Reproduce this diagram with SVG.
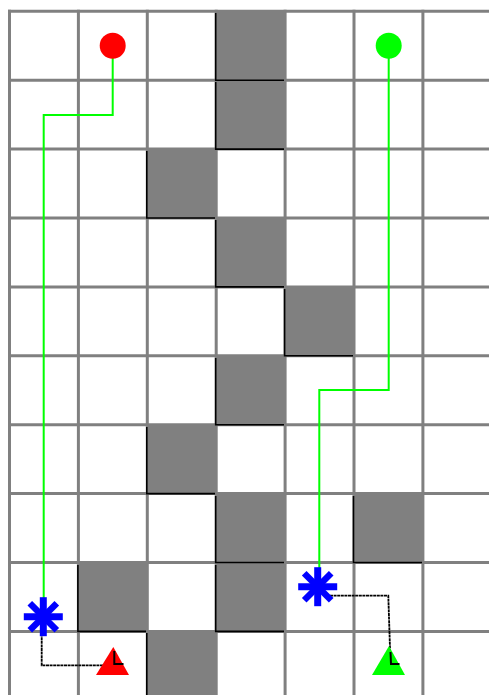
<svg xmlns="http://www.w3.org/2000/svg" width="489" height="695" viewBox="0 0 489 695">
<style>
.cell{fill:#808080}
.grid line{stroke:#808080;stroke-width:3}
.edge{fill:none;stroke:#000;stroke-width:1.6}
.plan{fill:none;stroke:#00ff00;stroke-width:2}
.track{fill:none;stroke:#000;stroke-width:1.8;stroke-dasharray:3 0.6}
.ast line{stroke:#0000ff;stroke-width:7}
.ast line.d{stroke-width:6.5}
.endm{fill:none;stroke:#000;stroke-width:2}
</style>
<defs>
<g id="asterisk" class="ast">
<line x1="-19.5" y1="0" x2="19.5" y2="0"/>
<line x1="0" y1="-19.5" x2="0" y2="19.5"/>
<line class="d" x1="-13.5" y1="-13.5" x2="13.5" y2="13.5"/>
<line class="d" x1="-13.5" y1="13.5" x2="13.5" y2="-13.5"/>
</g>
</defs>
<rect width="489" height="695" fill="#fff"/>
<g id="obstacles">
<rect class="cell" x="216.2" y="11.3" width="68.9" height="68.9"/>
<rect class="cell" x="216.2" y="80.2" width="68.9" height="68.9"/>
<rect class="cell" x="147.3" y="149.1" width="68.9" height="68.9"/>
<rect class="cell" x="216.2" y="218" width="68.9" height="68.9"/>
<rect class="cell" x="285.1" y="286.9" width="68.9" height="68.9"/>
<rect class="cell" x="216.2" y="355.8" width="68.9" height="68.9"/>
<rect class="cell" x="147.3" y="424.7" width="68.9" height="68.9"/>
<rect class="cell" x="216.2" y="493.6" width="68.9" height="68.9"/>
<rect class="cell" x="354" y="493.6" width="68.9" height="68.9"/>
<rect class="cell" x="78.4" y="562.5" width="68.9" height="68.9"/>
<rect class="cell" x="216.2" y="562.5" width="68.9" height="68.9"/>
<rect class="cell" x="147.3" y="631.4" width="68.9" height="68.9"/>
</g>
<g class="grid" id="grid">
<line x1="8" y1="11.3" x2="489" y2="11.3"/>
<line x1="8" y1="80.2" x2="489" y2="80.2"/>
<line x1="8" y1="149.1" x2="489" y2="149.1"/>
<line x1="8" y1="218" x2="489" y2="218"/>
<line x1="8" y1="286.9" x2="489" y2="286.9"/>
<line x1="8" y1="355.8" x2="489" y2="355.8"/>
<line x1="8" y1="424.7" x2="489" y2="424.7"/>
<line x1="8" y1="493.6" x2="489" y2="493.6"/>
<line x1="8" y1="562.5" x2="489" y2="562.5"/>
<line x1="8" y1="631.4" x2="489" y2="631.4"/>
<line x1="9.5" y1="9.8" x2="9.5" y2="695"/>
<line x1="78.4" y1="9.8" x2="78.4" y2="695"/>
<line x1="147.3" y1="9.8" x2="147.3" y2="695"/>
<line x1="216.2" y1="9.8" x2="216.2" y2="695"/>
<line x1="285.1" y1="9.8" x2="285.1" y2="695"/>
<line x1="354" y1="9.8" x2="354" y2="695"/>
<line x1="422.9" y1="9.8" x2="422.9" y2="695"/>
</g>
<g id="obstacle-edges">
<path class="edge" d="M215.7,13 V80.2 H284"/>
<path class="edge" d="M215.7,82 V149.1 H284"/>
<path class="edge" d="M146.8,151 V218 H215"/>
<path class="edge" d="M215.7,220 V286.9 H284"/>
<path class="edge" d="M284.6,289 V355.8 H353"/>
<path class="edge" d="M215.7,358 V424.7 H284"/>
<path class="edge" d="M146.8,427 V493.6 H215"/>
<path class="edge" d="M215.7,496 V562.5 H284"/>
<path class="edge" d="M353.5,496 V562.5 H422"/>
<path class="edge" d="M77.9,565 V631.4 H146"/>
<path class="edge" d="M215.7,565 V631.4 H284"/>
<path class="edge" d="M146.8,633 V695"/>
</g>
<g id="connectors">
<path class="plan" d="M112.7,46 V115 H43.7 V600"/>
<path class="plan" d="M388.7,46 V390 H319.3 V570"/>
<path class="track" d="M41.7,630 V665.3 H113.5"/>
<path class="track" d="M330,595.7 H388.3 L390.5,664"/>
</g>
<g id="start-red"><circle cx="112.7" cy="45.8" r="13" fill="#ff0000"/></g>
<g id="start-green"><circle cx="388.7" cy="45.7" r="13" fill="#00ff00"/></g>
<g id="goal-red">
<polygon points="113.3,647 96,675 129,675" fill="#ff0000"/>
<path class="endm" d="M114.3,651 V664 H123.5"/>
</g>
<g id="goal-green">
<polygon points="389,646 372,675 405,675" fill="#00ff00"/>
<path class="endm" d="M390.5,652 L391,664 H399.5"/>
</g>
<g id="agent-left"><use href="#asterisk" x="43.3" y="616.7"/></g>
<g id="agent-right"><use href="#asterisk" x="317.7" y="586.7"/></g>
</svg>
